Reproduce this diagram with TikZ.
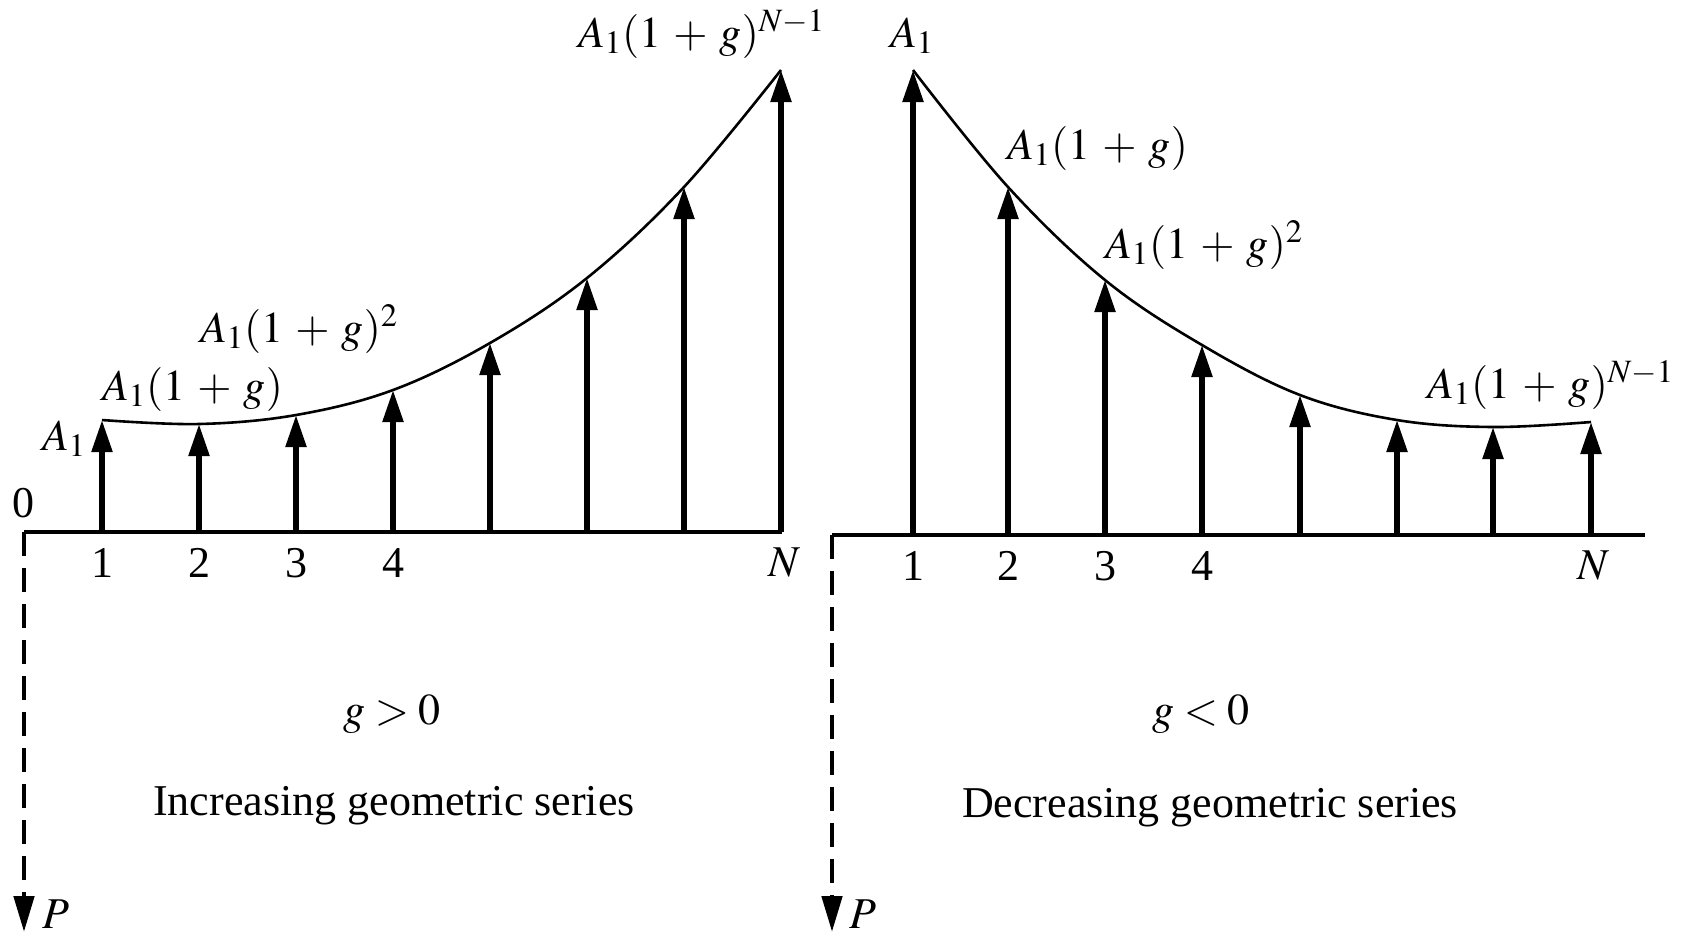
\documentclass[tikz,border=0pt]{standalone}
\usepackage{mathptmx}
\usepackage{fontspec}
\setmainfont{Liberation Serif}
\usetikzlibrary{arrows.meta}
\newcommand{\gpl}{\mkern5mu{+}\mkern5mu}
\tikzset{
  lbl/.style={font=\fontsize{22}{26}\selectfont, inner sep=0pt, outer sep=0pt},
  cashflow/.style={line width=2.7pt, -{Triangle[length=16pt,width=10pt]}},
  axisline/.style={line width=1.6pt},
  curveline/.style={line width=1.3pt},
  dashline/.style={line width=2.4pt, dash pattern=on 12pt off 6pt, -{Triangle[length=18pt,width=10pt]}}
}
\begin{document}
\begin{tikzpicture}[x=0.5pt,y=-0.5pt]
\useasboundingbox (0,0) rectangle (1684,934);
% ---------- left panel ----------
\coordinate (La0) at (24,532);
\coordinate (LaE) at (782,532);
\coordinate (Lp) at (24,932);
\foreach \i/\x/\y in {1/102/420,2/199/424,3/296/415,4/393/390,5/490/343,6/587/278,7/684/187,8/781/70}{
  \coordinate (Lb\i) at (\x,532);
  \coordinate (Lt\i) at (\x,\y);
}
\draw[dashline] (La0) -- (Lp);
\draw[axisline] (La0) -- (LaE);
\draw[curveline] plot[smooth, tension=0.6] coordinates {(Lt1) (Lt2) (Lt3) (Lt4) (Lt5) (Lt6) (Lt7) (Lt8)};
\foreach \i in {1,...,8}{ \draw[cashflow] (Lb\i) -- (Lt\i); }
\node[lbl] (zero) at (23,503) {0};
\node[lbl] (Ln1) at (102,563) {1};
\node[lbl] (Ln2) at (199,563) {2};
\node[lbl] (Ln3) at (296,563) {3};
\node[lbl] (Ln4) at (393,563) {4};
\node[lbl] (LnN) at (784,563) {$N$};
\node[lbl, anchor=base west] (LA1) at (42,450) {$A_1$};
\node[lbl, anchor=base west] (LA2) at (102,400) {$A_1(1\gpl g)$};
\node[lbl, anchor=base west] (LA3) at (200,342) {$A_1(1\gpl g)^2$};
\node[lbl, anchor=base west] (LAN) at (578,47) {$A_1(1\gpl g)^{N-1}$};
\node[lbl] (Lg) at (392,714) {$g>0$};
\node[lbl] (Ltitle) at (394,806) {Increasing geometric series};
\node[lbl, anchor=base west] (LP) at (42,928) {$P$};
% ---------- right panel ----------
\coordinate (Ra0) at (832,535);
\coordinate (RaE) at (1645,535);
\coordinate (Rp) at (832,932);
\foreach \i/\x/\y in {1/913/70,2/1008/187,3/1105/280,4/1202/345,5/1300/395,6/1397/420,7/1493/427,8/1591/422}{
  \coordinate (Rb\i) at (\x,535);
  \coordinate (Rt\i) at (\x,\y);
}
\draw[dashline] (Ra0) -- (Rp);
\draw[axisline] (Ra0) -- (RaE);
\draw[curveline] plot[smooth, tension=0.6] coordinates {(Rt1) (Rt2) (Rt3) (Rt4) (Rt5) (Rt6) (Rt7) (Rt8)};
\foreach \i in {1,...,8}{ \draw[cashflow] (Rb\i) -- (Rt\i); }
\node[lbl] (Rn1) at (913,566) {1};
\node[lbl] (Rn2) at (1008,566) {2};
\node[lbl] (Rn3) at (1105,566) {3};
\node[lbl] (Rn4) at (1202,566) {4};
\node[lbl] (RnN) at (1593,566) {$N$};
\node[lbl, anchor=base west] (RA1) at (890,47) {$A_1$};
\node[lbl, anchor=base west] (RA2) at (1007,159) {$A_1(1\gpl g)$};
\node[lbl, anchor=base west] (RA3) at (1105,258) {$A_1(1\gpl g)^2$};
\node[lbl, anchor=base west] (RAN) at (1427,398) {$A_1(1\gpl g)^{N-1}$};
\node[lbl] (Rg) at (1201,714) {$g<0$};
\node[lbl] (Rtitle) at (1210,808) {Decreasing geometric series};
\node[lbl, anchor=base west] (RP) at (849,928) {$P$};
\end{tikzpicture}
\end{document}
